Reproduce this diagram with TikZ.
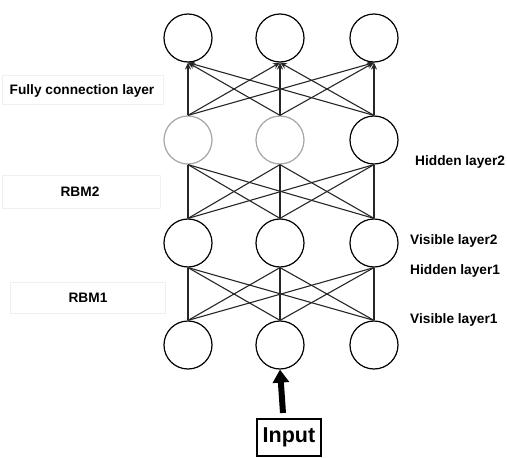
\documentclass[tikz,border=0pt]{standalone}
\usepackage{fontspec}
\setmainfont{Liberation Sans}
\usetikzlibrary{arrows.meta}
\begin{document}
\begin{tikzpicture}[x=1pt,y=-1pt,
  unit/.style={circle,draw=black,line width=1.2pt,fill=white,minimum size=48pt,inner sep=0pt},
  faded/.style={unit,draw=black!35},
  link/.style={line width=1.1pt,black!85},
  uplink/.style={link,-{Stealth[length=7pt,width=6pt]}},
  tag/.style={font=\bfseries\fontsize{13.7}{15}\selectfont,inner sep=0pt},
  panel/.style={draw=black!6,fill=white,line width=0.6pt}]
\useasboundingbox (0,0) rectangle (507,458);

% left-hand label panels
\draw[panel] (2,75) rectangle (163,104);
\draw[panel] (2,175) rectangle (160,208);
\draw[panel] (10,282) rectangle (165,313);
\node[tag] (lfc) at (82,91) {Fully connection layer};
\node[tag] (lrbm2) at (80,192) {RBM2};
\node[tag] (lrbm1) at (88,298) {RBM1};

% right-hand layer labels
\node[tag,anchor=west] (lh2) at (415,162) {Hidden layer2};
\node[tag,anchor=west] (lv2) at (410,241) {Visible layer2};
\node[tag,anchor=west] (lh1) at (410,271) {Hidden layer1};
\node[tag,anchor=west] (lv1) at (410,320) {Visible layer1};

% units, rows from top to bottom
\foreach \c/\x in {1/188,2/280,3/374}{
  \node[unit] (a\c) at (\x,38) {};
  \node[unit] (c\c) at (\x,243) {};
  \node[unit] (d\c) at (\x,345) {};
}
\node[faded] (b1) at (188,140) {};
\node[faded] (b2) at (280,140) {};
\node[unit]  (b3) at (374,140) {};

% connections
\foreach \i in {1,2,3}{
  \foreach \j in {1,2,3}{
    \draw[uplink] (b\i.north) -- (a\j.south);
    \draw[link] (c\i.north) -- (b\j.south);
    \draw[link] (d\i.north) -- (c\j.south);
  }
}

% input
\node[draw=black,line width=1.2pt,fill=white,font=\bfseries\fontsize{21.5}{24}\selectfont,
      minimum width=64pt,minimum height=37pt,inner sep=0pt] (in) at (289,437.5) {Input};
\coordinate (instart) at (283,413);
\draw[line width=6pt,-{Triangle[length=13pt,width=16pt]}] (instart) -- (d2.south);
\end{tikzpicture}
\end{document}
